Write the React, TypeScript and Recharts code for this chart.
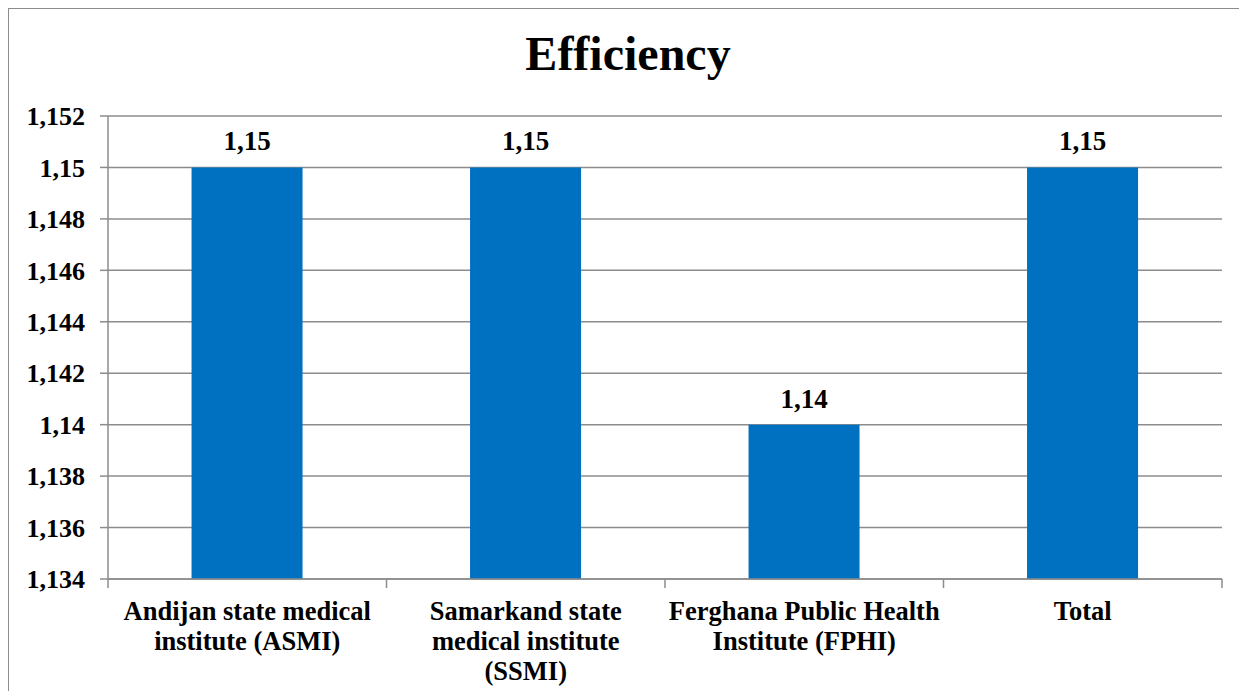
import { Bar, BarChart, CartesianGrid, LabelList, XAxis, YAxis } from "recharts";

const CATEGORIES = [
  "Andijan state medical\ninstitute (ASMI)",
  "Samarkand state\nmedical institute\n(SSMI)",
  "Ferghana Public Health\nInstitute (FPHI)",
  "Total",
];
const EFFICIENCY = [1.15, 1.15, 1.14, 1.15];
const Y_TICKS = [1.134, 1.136, 1.138, 1.14, 1.142, 1.144, 1.146, 1.148, 1.15, 1.152];

const data = CATEGORIES.map((name, i) => ({ name, value: EFFICIENCY[i] }));

const FONT = '"Liberation Serif", "Times New Roman", serif';
const GRID = "#8c8c8c";
const BAR = "#0070c0";

const W = 1247;
const H = 699;
const MARGIN = { top: 116, right: 25, bottom: 0, left: 0 };
const Y_AXIS_W = 108;
const BAND = (W - MARGIN.right - MARGIN.left - Y_AXIS_W) / CATEGORIES.length;

// comma decimals like the source (1,15 / 1,148)
const fmt = (v: number) => String(parseFloat(v.toFixed(3))).replace(".", ",");

function CategoryTick(props: any) {
  const { x, y, payload, index } = props;
  const lines = String(payload.value).split("\n");
  return (
    <g>
      <line x1={x - BAND / 2} x2={x - BAND / 2} y1={y} y2={y + 9} stroke={GRID} strokeWidth={1.5} />
      {index === CATEGORIES.length - 1 && (
        <line x1={x + BAND / 2} x2={x + BAND / 2} y1={y} y2={y + 9} stroke={GRID} strokeWidth={1.5} />
      )}
      <text textAnchor="middle" style={{ fontFamily: FONT, fontWeight: "bold", fontSize: 26.5 }} fill="#000">
        {lines.map((l, i) => (
          <tspan key={i} x={x} y={y + 41 + i * 30}>
            {l}
          </tspan>
        ))}
      </text>
    </g>
  );
}

export default function App() {
  return (
    <div style={{ position: "relative", width: 1239, height: 683, fontFamily: FONT }}>
      <a
        href="#"
        style={{
          position: "absolute",
          left: -4,
          top: -29,
          fontFamily: FONT,
          fontSize: 25,
          lineHeight: "28px",
          color: "#0000ff",
          whiteSpace: "nowrap",
        }}
      >
        http://www.ecmstudies.de/
      </a>
      <div
        style={{
          position: "absolute",
          left: -1,
          top: -1,
          width: 1240,
          height: 692,
          boxSizing: "border-box",
          borderLeft: `2px solid ${GRID}`,
          borderTop: `2px solid ${GRID}`,
        }}
      />
      <svg style={{ position: "absolute", left: -8, top: -8 }} width={W} height={90}>
        <text
          x={628}
          y={70}
          textAnchor="middle"
          style={{ fontFamily: FONT, fontWeight: "bold", fontSize: 48 }}
        >
          Efficiency
        </text>
      </svg>
      <div style={{ position: "absolute", left: -8, top: -8 }}>
        <BarChart width={W} height={H} data={data} margin={MARGIN} barCategoryGap="30%">
          <CartesianGrid vertical={false} stroke={GRID} strokeWidth={1.5} />
          <XAxis
            dataKey="name"
            height={H - 579}
            interval={0}
            tickSize={0}
            tickMargin={0}
            tickLine={false}
            axisLine={{ stroke: GRID, strokeWidth: 1.5 }}
            tick={<CategoryTick />}
          />
          <YAxis
            width={Y_AXIS_W}
            domain={[1.134, 1.152]}
            ticks={Y_TICKS}
            interval={0}
            allowDataOverflow
            tickFormatter={fmt}
            tickSize={8}
            tickMargin={15}
            axisLine={{ stroke: GRID, strokeWidth: 1.5 }}
            tickLine={{ stroke: GRID, strokeWidth: 1.5 }}
            tick={{ style: { fontFamily: FONT, fontWeight: "bold", fontSize: 26 }, fill: "#000" }}
          />
          <Bar dataKey="value" fill={BAR} isAnimationActive={false}>
            <LabelList
              dataKey="value"
              position="top"
              offset={17}
              formatter={(v: any) => Number(v).toFixed(2).replace(".", ",")}
              style={{ fontFamily: FONT, fontWeight: "bold", fontSize: 27, fill: "#000" }}
            />
          </Bar>
        </BarChart>
      </div>
    </div>
  );
}
